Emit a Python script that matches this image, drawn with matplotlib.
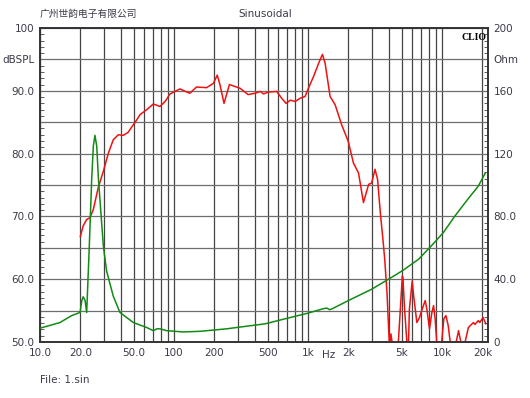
import numpy as np
import matplotlib
matplotlib.use("Agg")
import matplotlib.pyplot as plt
from matplotlib.ticker import LogLocator, MultipleLocator, NullFormatter
import matplotlib.transforms as mtransforms

plt.rcParams['font.family'] = ['DejaVu Sans', 'Noto Sans CJK SC']

# SPL curve (dB, left axis)
spl_freq = [20, 21, 22.3, 23.6, 25, 27.2, 29.7, 32.4, 35.2, 38.4, 41.8, 45.5, 49.7, 52.8,
            55.7, 62.6, 70.1, 78.5, 85.8, 93.3, 110.7, 131, 147, 175, 197, 210, 220, 236,
            259, 311, 357, 401, 441, 465, 505, 584, 636, 685, 736, 802, 870, 950, 1034,
            1100, 1200, 1279, 1340, 1460, 1590, 1780, 1990, 2180, 2380, 2590, 2830, 2980,
            3160, 3300, 3460, 3620, 3730, 3880, 3960, 4030, 4070, 4150, 4260, 4480, 4700,
            4880, 5050, 5100, 5250, 5460, 5580, 5700, 5980, 6140, 6480, 6780, 7090, 7480,
            7700, 8050, 8390, 8640, 8870, 9120, 9500, 9930, 10300, 10680, 11110, 11490,
            12100, 12740, 13260, 13800, 14300, 14850, 15700, 16200, 17140, 17600, 18600,
            19100, 20200, 21200]
spl_db = [66.8, 68.5, 69.5, 69.8, 71.1, 74.6, 77.2, 80.1, 82.2, 83.0, 82.9, 83.4, 84.6, 85.4,
          86.2, 87.0, 87.9, 87.5, 88.3, 89.5, 90.3, 89.6, 90.6, 90.5, 91.2, 92.5, 91.0, 88.0,
          91.0, 90.4, 89.4, 89.6, 89.9, 89.5, 89.8, 89.9, 88.8, 88.0, 88.5, 88.3, 88.8, 89.1, 91.0,
          92.3, 94.4, 95.8, 94.4, 89.1, 87.8, 84.6, 82.0, 78.5, 76.9, 72.2, 75.1, 75.3,
          77.5, 75.9, 70.6, 66.3, 63.2, 57.9, 53.7, 50.2, 49.6, 51.3, 49.6, 45.0, 49.5,
          55.2, 60.5, 60.3, 55.2, 50.0, 47.5, 55.2, 59.7, 57.3, 53.1, 53.9, 55.2, 56.6,
          55.2, 52.1, 54.7, 55.8, 53.7, 50.0, 46.0, 50.0, 53.7, 54.2, 52.6, 50.0,
          46.0, 50.0, 51.8, 50.0, 47.0, 50.0, 52.3, 52.6, 53.1, 52.8, 53.4,
          53.1, 53.9, 52.9]

# impedance curve (Ohm, right axis)
imp_freq = [10, 14.1, 17.2, 19.3, 19.9, 20.5, 21.0, 21.7, 22.3, 23.3, 24.3, 25.0, 25.7, 26.5,
            27.3, 28.0, 29.7, 31.4, 35.2, 39.5, 49.7, 62.6, 70.1, 74.4, 78.5, 88.3, 117, 156,
            247, 479, 675, 1000, 1300, 1380, 1450, 1500, 2000, 2980, 4200, 5100, 6690, 8300,
            10200, 12400, 15500, 18600, 21000]
imp_ohm = [8.8, 12.4, 16.8, 18.4, 18.8, 26.4, 28.8, 26.4, 18.8, 60, 103.6, 124.8, 131.6, 124.8,
           103.6, 90.8, 61, 45.2, 29.2, 18.8, 12.4, 9.2, 7.2, 8.4, 8.4, 7.2, 6.4, 6.8,
           8.4, 11.6, 14.8, 18.4, 21.2, 21.6, 20.6, 21.0, 26.4, 33.6, 41.2, 45.6, 52.8, 61.2,
           69.6, 80, 90.8, 99.2, 107.6]

x_ticks = [10, 20, 50, 100, 200, 500, 1000, 2000, 5000, 10000, 20000]
x_labels = ["10.0", "20.0", "50.0", "100", "200", "500", "1k", "2k", "5k", "10k", "20k"]
left_ticks = [50, 55, 60, 65, 70, 75, 80, 85, 90, 95, 100]
left_labels = ["50.0", "", "60.0", "", "70.0", "", "80.0", "", "90.0", "dBSPL", "100"]
right_ticks = [0, 20, 40, 60, 80, 100, 120, 140, 160, 180, 200]
right_labels = ["0", "", "40.0", "", "80.0", "", "120", "", "160", "Ohm", "200"]

txt = "#3a3a4a"
vgrid = "#444444"
hgrid = "#6e6e6e"

fig = plt.figure(figsize=(5.3, 3.98), dpi=100)
ax = fig.add_axes([40 / 530, 1 - 342 / 398, 448 / 530, 314 / 398])
ax2 = ax.twinx()

ax.set_xscale("log")
ax.set_xlim(10, 22000)
ax.set_ylim(50, 100)
ax2.set_ylim(0, 200)

ax.set_xticks(x_ticks)
ax.set_xticklabels(x_labels)
ax.xaxis.set_minor_locator(LogLocator(base=10, subs=np.arange(1, 10)))
ax.xaxis.set_minor_formatter(NullFormatter())
ax.set_yticks(left_ticks)
ax.set_yticklabels(left_labels)
ax.yaxis.set_minor_locator(MultipleLocator(1))
ax2.set_yticks(right_ticks)
ax2.set_yticklabels(right_labels)
ax2.yaxis.set_minor_locator(MultipleLocator(4))

ax.grid(True, which="both", axis="x", color=vgrid, lw=0.9)
ax.grid(True, which="major", axis="y", color=hgrid, lw=0.9)
ax.set_axisbelow(True)

ax.tick_params(axis="x", which="both", length=0, pad=4, labelsize=7.5, colors=txt)
ax.tick_params(axis="y", which="major", length=0, pad=4, labelsize=7.5, colors=txt)
ax.tick_params(axis="y", which="minor", direction="in", length=3, color=vgrid)
ax2.tick_params(axis="y", which="major", length=0, pad=4, labelsize=7.5, colors=txt)
ax2.tick_params(axis="y", which="minor", direction="in", length=3, color=vgrid)

for a in (ax, ax2):
    for s in a.spines.values():
        s.set_color("#333333")
        s.set_linewidth(1.2)

ax.plot(spl_freq, spl_db, color="#ee1111", lw=1.1, zorder=3)
ax2.plot(imp_freq, imp_ohm, color="#138a13", lw=1.1, zorder=3)

trans = mtransforms.blended_transform_factory(ax.transData, ax.transAxes)
ax.text(1420, -0.025, "Hz", transform=trans, ha="center", va="top", fontsize=7.5, color=txt)
ax.text(0.997, 0.985, "CLIO", transform=ax.transAxes, ha="right", va="top",
        fontsize=7, fontweight="bold", family="Liberation Serif", color="black")

fig.text(265 / 530, 1 - 14 / 398, "Sinusoidal", ha="center", va="center", fontsize=7.5, color=txt)
fig.text(40 / 530, 1 - 14 / 398, "广州世韵电子有限公司", ha="left", va="center", fontsize=7,
         color=txt, family=["Noto Sans CJK SC", "DejaVu Sans"])
fig.text(40 / 530, 1 - 380 / 398, "File: 1.sin", ha="left", va="center", fontsize=7.5, color=txt)

fig.savefig("out.png", dpi=100)
